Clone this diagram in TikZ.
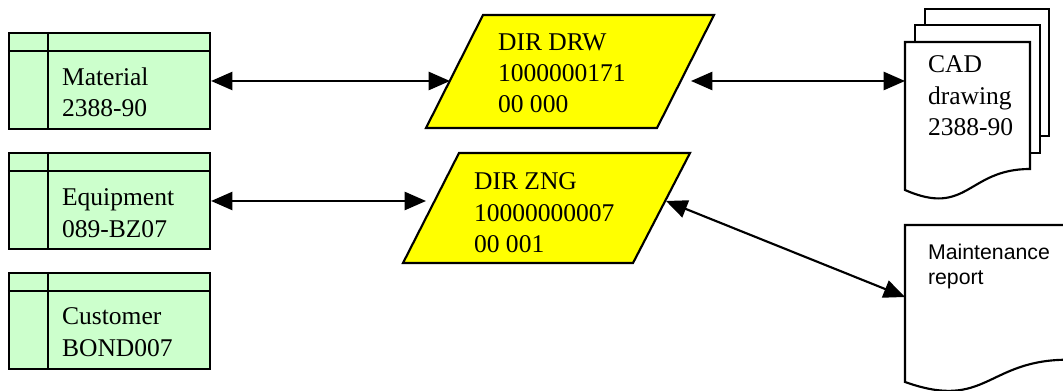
\documentclass[tikz,border=0pt]{standalone}
\usepackage{fontspec}
\setmainfont{Liberation Serif}
\setsansfont{Liberation Sans}
\usetikzlibrary{arrows.meta}
\definecolor{tblgreen}{HTML}{CCFFCC}
\definecolor{diryellow}{HTML}{FFFF00}

\begin{document}
\begin{tikzpicture}[
  x=0.47pt, y=-0.47pt,
  line width=1pt,
  tbl/.style={draw, fill=tblgreen, minimum width=94.5pt, minimum height=45.1pt, inner sep=0pt},
  dir/.style={draw, fill=diryellow, line join=miter},
  doc/.style={draw, fill=white},
  lbl/.style={anchor=north west, inner sep=0pt, align=left, font=\fontsize{12}{14.6}\selectfont},
  sflbl/.style={lbl, font=\sffamily\fontsize{10}{11.8}\selectfont},
  link/.style={{Triangle[length=10pt,width=8.5pt]}-{Triangle[length=10pt,width=8.5pt]}, line width=1pt}
]
  \useasboundingbox (0,0) rectangle (1063,391);

  % object tables
  \node[tbl] (mat) at (109.5,81) {};
  \node[tbl] (equ) at (109.5,201) {};
  \node[tbl] (cus) at (109.5,321) {};
  \foreach \t in {mat,equ,cus} {
    \draw ([shift={(0,19)}]\t.north west) -- ([shift={(0,19)}]\t.north east);
    \draw ([shift={(40,0)}]\t.north west) -- ([shift={(40,0)}]\t.south west);
  }
  \node[lbl] (matlbl) at (61,67) {Material\\2388-90};
  \node[lbl] (equlbl) at (61,188) {Equipment\\089-BZ07};
  \node[lbl] (cuslbl) at (61,307) {Customer\\BOND007};

  % document info records
  \draw[dir] (483,15) -- (714,15) -- (657,128) -- (426,128) -- cycle;
  \draw[dir] (459,153) -- (690,153) -- (633,263) -- (403,263) -- cycle;
  \node[lbl] (drw) at (497,33) {DIR DRW\\1000000171\\00 000};
  \node[lbl] (zng) at (473,172) {DIR ZNG\\10000000007\\00 001};
  \coordinate (drwW) at (450,81);
  \coordinate (drwE) at (691,81);
  \coordinate (zngW) at (426,201);
  \coordinate (zngE) at (666,201);

  % originals
  \draw[doc] (925,9) rectangle (1049,136);
  \draw[doc] (915,25) rectangle (1040,153);
  \draw[doc] (905,42) -- (1030,42) -- (1030,169)
    .. controls (967.5,169) and (967.5,217.5) .. (905,190) -- cycle;
  \node[lbl] (cad) at (927,55) {CAD\\drawing\\2388-90};
  \draw[doc] (905,225) -- (1068,225) -- (1068,359.7)
    .. controls (986.5,359.7) and (986.5,411) .. (905,382) -- cycle;
  \node[sflbl] (rep) at (927,243) {Maintenance\\report};
  \coordinate (cadW) at (905,81);
  \coordinate (repW) at (905,297);

  % links
  \draw[link] (mat.east) -- (drwW);
  \draw[link] (equ.east) -- (zngW);
  \draw[link] (drwE) -- (cadW);
  \draw[link] (zngE) -- (repW);
\end{tikzpicture}
\end{document}
